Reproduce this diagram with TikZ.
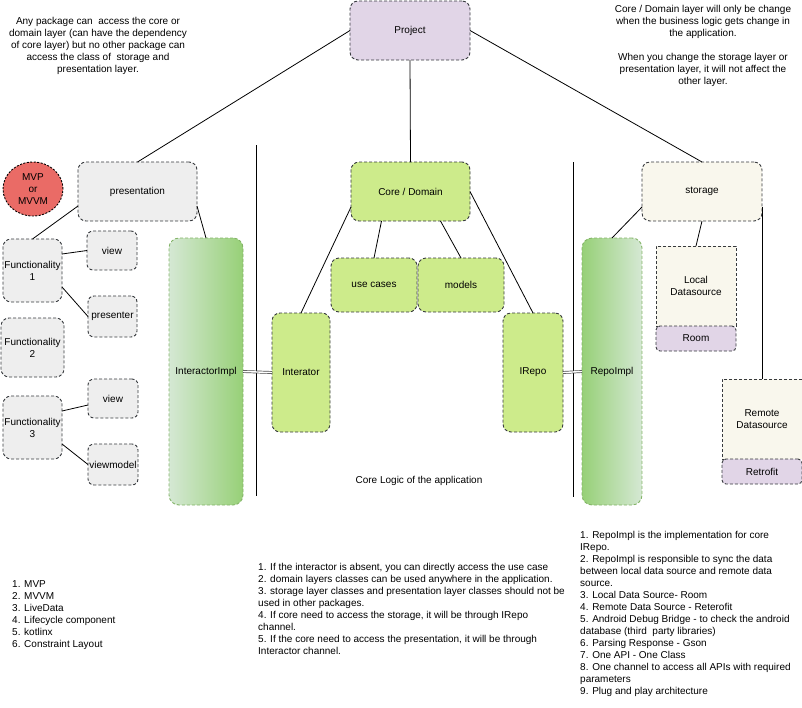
\documentclass[tikz,border=0pt]{standalone}
\usepackage{fontspec}
\setmainfont{Liberation Sans}
\usetikzlibrary{calc,shapes.geometric}

\definecolor{grayfill}{HTML}{EEEEEE}
\definecolor{edgegray}{HTML}{36393D}
\definecolor{lime}{HTML}{CDEB8B}
\definecolor{lilac}{HTML}{E1D5E7}
\definecolor{cream}{HTML}{F9F7ED}
\definecolor{coral}{HTML}{EA6B66}
\definecolor{mintlight}{HTML}{D5E8D4}
\definecolor{mintdark}{HTML}{97D077}
\definecolor{mintedge}{HTML}{82B366}

\tikzset{
  txt/.style={font=\fontsize{10}{12}\selectfont},
  boxbase/.style={txt, draw=edgegray, line width=0.9pt, dash pattern=on 3pt off 2pt,
    inner sep=0pt, outer sep=0pt, anchor=north west, align=center},
  card/.style={boxbase, rounded corners=8pt},
  smallcard/.style={boxbase, rounded corners=6pt},
  plainbox/.style={boxbase},
  tagbox/.style={boxbase, rounded corners=4pt, fill=lilac},
  implbar/.style={boxbase, draw=mintedge, rounded corners=10pt},
  wire/.style={draw=black, line width=0.8pt},
  divider/.style={draw=black, line width=0.9pt},
  link/.style={draw=black!70, double=white, double distance=1.4pt, line width=0.7pt},
  note/.style={txt, inner sep=0pt, align=center},
  listing/.style={txt, inner sep=0pt, align=left, anchor=north west},
}

\begin{document}
\begin{tikzpicture}[x=1pt, y=-1pt]
\useasboundingbox (0,0) rectangle (802,707);

% top level
\node[card, fill=lilac, minimum width=120pt, minimum height=59pt] (proj) at (350,1) {Project};

% presentation layer
\node[card, fill=grayfill, minimum width=119pt, minimum height=59pt] (pres) at (78,162) {presentation};
\node[ellipse, draw=black, line width=0.9pt, dash pattern=on 2pt off 1.5pt, fill=coral,
      minimum width=60pt, minimum height=54pt, inner sep=0pt, txt, align=center] (mvp) at (33,189) {MVP\\or\\MVVM};
\node[card, fill=grayfill, minimum width=59pt, minimum height=63pt] (f1) at (3,239) {Functionality\\1};
\node[card, fill=grayfill, minimum width=63pt, minimum height=59pt] (f2) at (1,318) {Functionality\\2};
\node[card, fill=grayfill, minimum width=59pt, minimum height=63pt] (f3) at (3,396) {Functionality\\3};
\node[smallcard, fill=grayfill, minimum width=50pt, minimum height=39pt] (viewa) at (87,231) {view};
\node[smallcard, fill=grayfill, minimum width=49pt, minimum height=41pt] (presenter) at (88,296) {presenter};
\node[smallcard, fill=grayfill, minimum width=50pt, minimum height=39pt] (viewb) at (88,379) {view};
\node[smallcard, fill=grayfill, minimum width=50pt, minimum height=41pt] (vmodel) at (88,444) {viewmodel};
\node[implbar, left color=mintlight, right color=mintdark, minimum width=74pt, minimum height=267pt] (iimpl) at (169,238) {InteractorImpl};

% core / domain layer
\node[card, fill=lime, minimum width=119pt, minimum height=59pt] (core) at (351,162) {Core / Domain};
\node[card, fill=lime, minimum width=86pt, minimum height=54pt] (usecases) at (331,258) {use cases};
\node[card, fill=lime, minimum width=86pt, minimum height=54pt] (models) at (418,258) {models};
\node[card, fill=lime, minimum width=58pt, minimum height=119pt] (interator) at (272,313) {Interator};
\node[card, fill=lime, minimum width=60pt, minimum height=119pt] (irepo) at (503,313) {IRepo};

% storage layer
\node[card, fill=cream, minimum width=120pt, minimum height=59pt] (stor) at (642,162) {storage};
\node[implbar, left color=mintdark, right color=mintlight, minimum width=60pt, minimum height=267pt] (rimpl) at (582,238) {RepoImpl};
\node[plainbox, fill=cream, minimum width=80pt, minimum height=80pt] (local) at (656,246) {Local\\Datasource};
\node[tagbox, minimum width=80pt, minimum height=25pt] (room) at (656,326) {Room};
\node[plainbox, fill=cream, minimum width=80pt, minimum height=80pt] (remote) at (722,379) {Remote\\Datasource};
\node[tagbox, minimum width=80pt, minimum height=25pt] (retro) at (722,459) {Retrofit};

% layer dividers
\coordinate (dlt) at (256,145);
\coordinate (dlb) at (256,496);
\coordinate (drt) at (573,162);
\coordinate (drb) at (573,497);
\draw[divider] (dlt) -- (dlb);
\draw[divider] (drt) -- (drb);

% project tree
\draw[wire] (proj.west) -- (pres.north);
\draw[wire] (proj.south) -- (core.north);
\draw[wire] (proj.east) -- (stor.north);

% presentation connectors
\draw[wire] ($(pres.south west)+(0,-15)$) -- (f1.north);
\draw[wire] ($(f1.north east)+(0,15)$) -- (viewa.west);
\draw[wire] ($(f1.south east)+(0,-15)$) -- (presenter.west);
\draw[wire] ($(f3.north east)+(0,15)$) -- ($(viewb.south west)+(0,-13)$);
\draw[wire] ($(f3.south east)+(0,-15)$) -- (vmodel.west);
\draw[wire] ($(pres.south east)+(0,-15)$) -- (iimpl.north);

% core connectors
\draw[wire] ($(core.south west)+(0,-14)$) -- (interator.north);
\draw[wire] ($(core.south)+(-29,0)$) -- (usecases.north);
\draw[wire] ($(core.south)+(30,0)$) -- (models.north);
\draw[wire] (core.east) -- (irepo.north);

% storage connectors
\draw[wire] ($(stor.south west)+(0,-14)$) -- (rimpl.north);
\draw[wire] (stor.south) -- (local.north);
\coordinate (sr) at ($(stor.south east)+(0,-14)$);
\draw[wire] (sr) -- (sr |- remote.north);

% channels across the layers
\draw[link] (iimpl.east) -- (interator.west);
\draw[link] (irepo.east) -- (rimpl.west);

% notes
\node[note] (noteleft) at (98,46) {Any package can\ \ access the core or\\domain layer (can have the dependency\\of core layer) but no other package can\\access the class of\ \ storage and\\presentation layer.};
\node[note] (noteright) at (703,46) {Core / Domain layer will only be change\\when the business logic gets change in\\the application.\\[12pt]When you change the storage layer or\\presentation layer, it will not affect the\\other layer.};
\node[note] (corelogic) at (419,481) {Core Logic of the application};

\node[listing] (listleft) at (12,580) {1. MVP\\2. MVVM\\3. LiveData\\4. Lifecycle component\\5. kotlinx\\6. Constraint Layout};
\node[listing] (listmid) at (258,563) {1. If the interactor is absent, you can directly access the use case\\2. domain layers classes can be used anywhere in the application.\\3. storage layer classes and presentation layer classes should not be\\used in other packages.\\4. If core need to access the storage, it will be through IRepo\\channel.\\5. If the core need to access the presentation, it will be through\\Interactor channel.};
\node[listing] (listright) at (580,531) {1. RepoImpl is the implementation for core\\IRepo.\\2. RepoImpl is responsible to sync the data\\between local data source and remote data\\source.\\3. Local Data Source- Room\\4. Remote Data Source - Reterofit\\5. Android Debug Bridge - to check the android\\database (third\ \ party libraries)\\6. Parsing Response - Gson\\7. One API - One Class\\8. One channel to access all APIs with required\\parameters\\9. Plug and play architecture};
\end{tikzpicture}
\end{document}
